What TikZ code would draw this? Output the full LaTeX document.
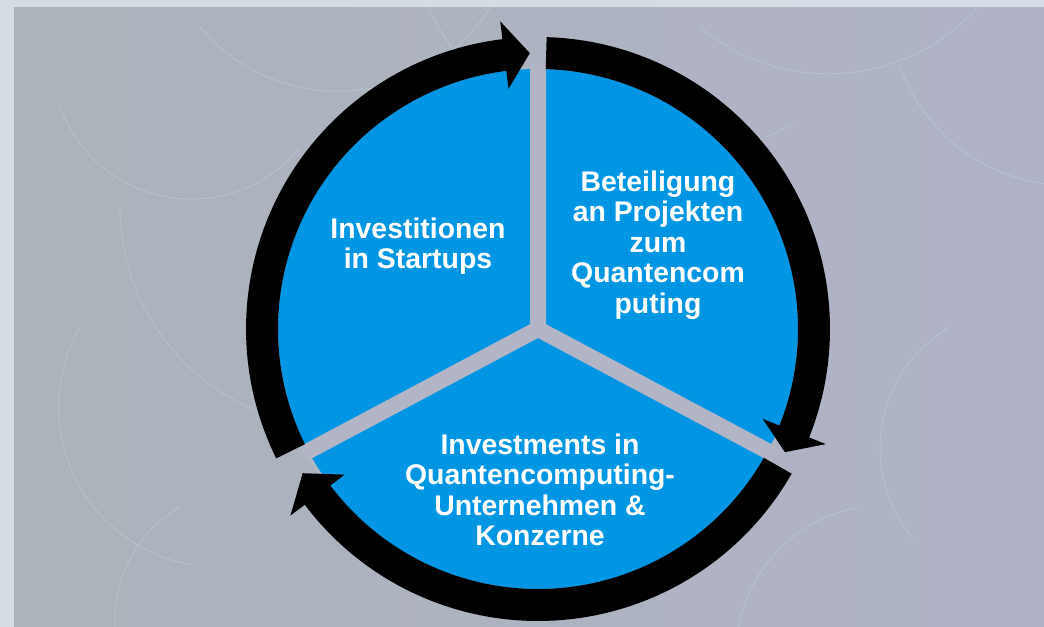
\documentclass[tikz,border=0pt]{standalone}
\usepackage{fontspec}
\setmainfont{Liberation Sans}
\usetikzlibrary{calc,positioning}

\definecolor{pieblue}{RGB}{0,150,228}
\definecolor{frame}{RGB}{214,220,228}
\definecolor{bgleft}{RGB}{172,179,186}
\definecolor{bgright}{RGB}{176,179,200}
\definecolor{gapcol}{RGB}{178,181,198}
\definecolor{streakcol}{RGB}{190,230,235}

% one black ring segment with its head: tail angle, head back angle, tip angle
\newcommand{\ringarrow}[3]{%
  \fill[ring] ($(c)+(#1:292)$) arc[start angle=#1,end angle=#2,radius=292]
    -- ($(c)+(#2:310)$) -- ($(c)+(#3:276)$) -- ($(c)+(#2:242)$) -- ($(c)+(#2:260)$)
    arc[start angle=#2,end angle=#1,radius=260] -- cycle;}

\begin{document}
\begin{tikzpicture}[x=0.75pt,y=0.75pt]
  \tikzstyle{seg}=[text=white,font=\bfseries\fontsize{21.3}{22.9}\selectfont,align=center]
  \tikzstyle{ring}=[fill=black]
  \tikzstyle{gap}=[draw=gapcol,line width=12pt]
  \tikzstyle{streak}=[draw=streakcol,opacity=0.35,line width=0.6pt]

  \useasboundingbox (0,0) rectangle (1044,627);
  \fill[frame] (0,0) rectangle (1044,627);
  \shade[left color=bgleft,right color=bgright] (14,0) rectangle (1044,619);

  % faint streaks of the photo behind
  \foreach \x/\y/\s/\e/\r in {60/520/200/320/140, 120/420/180/300/220, 200/600/220/330/180,
      80/300/150/260/160, 420/640/200/300/260, 700/600/230/320/200, 900/560/200/300/180,
      950/300/120/220/140, 300/200/190/290/120, 860/120/100/200/150, 180/120/120/210/130}
    \draw[streak] (\x,\y) arc[start angle=\s,end angle=\e,radius=\r];

  % pie with three gaps
  \coordinate (c) at (538,298);
  \fill[pieblue] (c) circle[radius=260];
  \draw[gap] (c) -- ++(90:266) (c) -- ++(208:266) (c) -- ++(332:266);

  % ring of arrows, clockwise
  \ringarrow{206.3}{97}{91.7}
  \ringarrow{88.3}{-21.8}{-26.5}
  \ringarrow{-29.7}{-143}{-148.5}

  \node[seg] (startups) at (418,381) {Investitionen\\in Startups};
  \node[seg] (projekte) at (658,382) {Beteiligung\\an Projekten\\zum\\Quantencom\\puting};
  \node[seg] (konzerne) at (540,137) {Investments in\\Quantencomputing-\\Unternehmen \&\\Konzerne};
\end{tikzpicture}
\end{document}
